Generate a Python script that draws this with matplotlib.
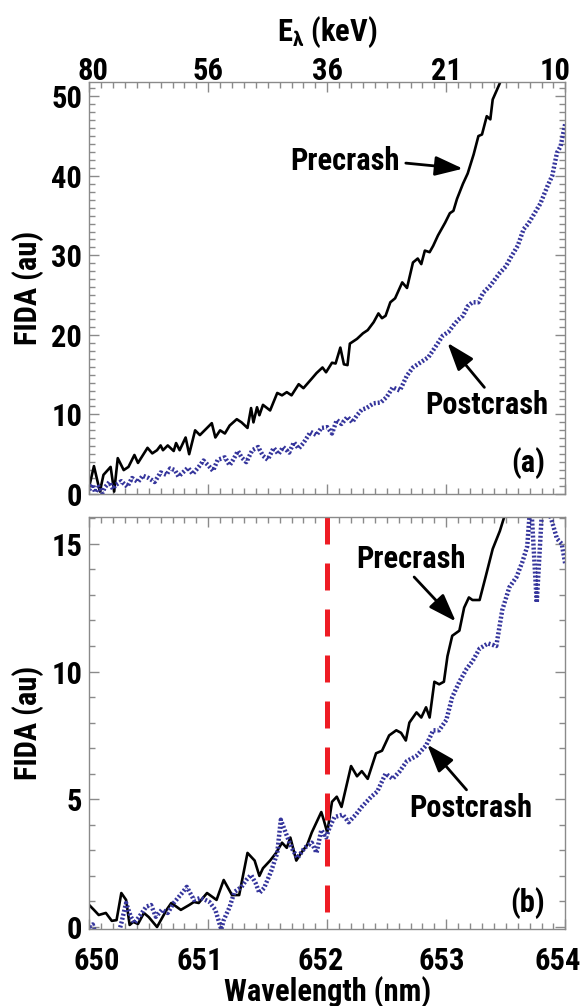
import matplotlib
matplotlib.use("Agg")
import matplotlib.pyplot as plt
import matplotlib.font_manager as fm
import matplotlib.transforms as mtransforms
from matplotlib.ticker import MultipleLocator

# pick a narrow bold face if one is around
names = {f.name for f in fm.fontManager.ttflist}
narrow = None
for cand in ['Liberation Sans Narrow', 'Arial Narrow', 'Roboto Condensed', 'Open Sans Condensed',
             'DejaVu Sans Condensed']:
    if cand in names:
        narrow = cand
        break
if narrow is None:
    narrow = 'DejaVu Sans'
    plt.rcParams['font.stretch'] = 'condensed'
plt.rcParams['font.family'] = [narrow, 'DejaVu Sans']
plt.rcParams['font.weight'] = 'bold'
plt.rcParams['axes.labelweight'] = 'bold'
plt.rcParams['mathtext.fontset'] = 'custom'
plt.rcParams['mathtext.rm'] = narrow + ':bold'
plt.rcParams['mathtext.it'] = narrow + ':bold'
plt.rcParams['mathtext.bf'] = narrow + ':bold'

# ---- data ----
wl_ticks = [650, 651, 652, 653, 654]
energy_labels = ['80', '56', '36', '21', '10']
crash_wl = 652.0

# (a) precrash
wl_pre_a = [650.00, 650.04, 650.09, 650.12, 650.18, 650.21, 650.24, 650.29, 650.33, 650.38,
            650.41, 650.49, 650.53, 650.57, 650.60, 650.62, 650.66, 650.71, 650.73, 650.76,
            650.81, 650.84, 650.89, 650.93, 650.97, 651.03, 651.06, 651.10, 651.14, 651.18,
            651.24, 651.28, 651.33, 651.36, 651.38, 651.41, 651.43, 651.46, 651.52, 651.58,
            651.62, 651.66, 651.70, 651.76, 651.80, 651.87, 651.91, 651.96, 651.99, 652.04,
            652.07, 652.11, 652.14, 652.17, 652.19, 652.25, 652.30, 652.34, 652.39, 652.43,
            652.46, 652.49, 652.53, 652.57, 652.63, 652.67, 652.72, 652.76, 652.79, 652.82,
            652.86, 652.89, 652.93, 652.99, 653.03, 653.06, 653.09, 653.14, 653.18, 653.23,
            653.27, 653.30, 653.34, 653.37, 653.39, 653.44, 653.50]
fida_pre_a = [0.9, 3.5, 0.3, 2.4, 3.4, 0.3, 4.5, 3.0, 3.4, 4.9,
              3.9, 5.8, 5.1, 5.5, 6.1, 5.5, 6.1, 5.4, 6.4, 5.5,
              7.1, 5.0, 8.0, 7.4, 8.0, 8.9, 7.1, 8.0, 7.6, 8.6,
              9.4, 9.0, 8.3, 10.8, 9.0, 10.9, 9.9, 11.2, 10.5, 12.7,
              12.4, 12.8, 12.4, 13.8, 13.3, 14.5, 15.2, 15.9, 15.3, 16.5,
              16.4, 18.4, 16.3, 16.2, 18.9, 19.5, 20.2, 20.6, 21.6, 22.7,
              22.1, 22.4, 24.1, 24.6, 26.6, 25.9, 29.1, 29.6, 28.9, 30.6,
              30.4, 31.2, 32.5, 34.1, 35.3, 35.6, 37.1, 39.0, 40.3, 42.7,
              45.0, 45.2, 47.5, 47.1, 49.6, 51.3, 53.5]

# (a) postcrash
wl_post_a = [650.00, 650.03, 650.05, 650.08, 650.11, 650.13, 650.17, 650.20, 650.22, 650.27,
             650.32, 650.36, 650.41, 650.45, 650.50, 650.55, 650.60, 650.65, 650.68, 650.72,
             650.75, 650.78, 650.83, 650.87, 650.92, 650.96, 651.00, 651.04, 651.08, 651.14,
             651.18, 651.21, 651.25, 651.28, 651.32, 651.37, 651.42, 651.46, 651.50, 651.55,
             651.59, 651.63, 651.68, 651.72, 651.76, 651.80, 651.86, 651.91, 651.95, 652.00,
             652.04, 652.08, 652.12, 652.17, 652.21, 652.25, 652.29, 652.33, 652.39, 652.45,
             652.50, 652.55, 652.61, 652.67, 652.72, 652.78, 652.85, 652.90, 652.97, 653.02,
             653.06, 653.10, 653.14, 653.18, 653.22, 653.27, 653.31, 653.37, 653.41, 653.45,
             653.50, 653.54, 653.60, 653.65, 653.69, 653.73, 653.79, 653.85, 653.89, 653.93,
             653.96, 654.00]
fida_post_a = [0.5, 1.2, 0.2, 0.9, 0.1, 0.8, 1.5, 0.6, 1.1, 1.6,
               0.9, 2.0, 1.5, 2.3, 2.0, 1.5, 2.7, 2.4, 3.2, 3.0,
               2.2, 2.6, 3.3, 2.5, 3.4, 4.2, 3.6, 2.9, 4.3, 4.6,
               3.6, 4.3, 5.4, 4.6, 4.0, 5.5, 5.9, 4.8, 4.3, 5.8,
               5.0, 5.9, 5.2, 6.5, 5.7, 6.4, 7.8, 7.4, 8.3, 8.4,
               7.6, 9.3, 8.8, 9.7, 9.0, 9.9, 10.6, 10.8, 11.4, 11.5,
               12.2, 13.4, 13.0, 14.9, 15.9, 16.5, 17.2, 18.3, 19.9, 20.4,
               21.2, 21.9, 22.4, 23.6, 24.1, 24.1, 25.3, 26.2, 27.0, 27.8,
               28.6, 29.7, 31.2, 33.3, 34.0, 35.0, 36.5, 38.7, 40.0, 42.9,
               43.7, 46.6]

# (b) precrash
wl_pre_b = [650.00, 650.04, 650.08, 650.14, 650.19, 650.23, 650.27, 650.31, 650.34, 650.37,
            650.41, 650.46, 650.50, 650.57, 650.65, 650.69, 650.77, 650.84, 650.88, 650.92,
            650.99, 651.07, 651.13, 651.20, 651.26, 651.33, 651.39, 651.43, 651.46, 651.52,
            651.57, 651.62, 651.66, 651.69, 651.74, 651.78, 651.83, 651.87, 651.95, 651.97,
            652.00, 652.04, 652.08, 652.12, 652.16, 652.20, 652.25, 652.29, 652.34, 652.41,
            652.46, 652.52, 652.58, 652.62, 652.66, 652.69, 652.75, 652.79, 652.83, 652.86,
            652.90, 652.94, 652.98, 653.01, 653.05, 653.11, 653.15, 653.19, 653.22, 653.28,
            653.33, 653.39, 653.45, 653.49, 653.52]
fida_pre_b = [0.86, 0.67, 0.47, 0.55, 0.24, 0.27, 1.33, 1.06, 0.08, 0.2,
              0.12, 0.55, 0.39, 0.0, 0.67, 0.94, 0.67, 0.86, 0.98, 0.94,
              1.33, 1.06, 1.84, 1.25, 1.25, 2.9, 2.6, 2.0, 2.3, 2.6,
              2.9, 3.3, 3.1, 3.5, 2.6, 2.9, 3.2, 3.7, 4.5, 4.2,
              3.7, 4.9, 5.1, 4.7, 5.5, 6.3, 5.9, 6.1, 5.8, 6.8,
              6.9, 7.5, 7.7, 7.6, 7.3, 8.0, 8.4, 8.2, 8.6, 8.2,
              9.6, 9.5, 9.6, 10.6, 11.4, 11.6, 12.5, 12.9, 12.8, 12.8,
              13.7, 14.8, 15.5, 16.1, 17.0]

# (b) postcrash
wl_post_b = [650.00, 650.03, 650.10, 650.20, 650.25, 650.27, 650.31, 650.35, 650.38, 650.42,
             650.48, 650.52, 650.56, 650.61, 650.66, 650.71, 650.78, 650.82, 650.88, 650.94,
             651.01, 651.06, 651.11, 651.13, 651.18, 651.22, 651.28, 651.32, 651.36, 651.40,
             651.43, 651.47, 651.53, 651.58, 651.61, 651.65, 651.70, 651.75, 651.81, 651.87,
             651.91, 651.95, 651.99, 652.02, 652.06, 652.13, 652.18, 652.24, 652.29, 652.37,
             652.42, 652.49, 652.55, 652.61, 652.67, 652.75, 652.83, 652.89, 652.94, 653.00,
             653.05, 653.11, 653.17, 653.22, 653.28, 653.35, 653.42, 653.47, 653.53, 653.59,
             653.64, 653.68, 653.71, 653.76, 653.81, 653.88, 653.93, 653.97, 654.00]
fida_post_b = [0.0, 0.1, -1.0, -0.8, -0.2, 0.15, 0.94, 0.4, 0.15, 0.4,
               0.8, 0.86, 0.4, 0.67, 0.55, 0.94, 1.33, 1.57, 1.06, 1.14,
               0.98, 0.67, -0.1, 0.27, 0.78, 1.37, 1.57, 1.84, 2.04, 1.7,
               1.33, 1.53, 2.2, 2.9, 4.2, 3.7, 3.1, 2.7, 3.1, 3.3,
               2.9, 3.8, 3.5, 3.9, 4.3, 4.4, 4.1, 4.4, 4.7, 5.1,
               5.3, 6.0, 5.8, 6.1, 6.5, 6.7, 7.1, 7.7, 7.7, 8.1,
               9.0, 9.6, 10.1, 10.4, 10.9, 11.1, 11.0, 12.4, 13.3, 13.7,
               14.3, 14.9, 16.8, 12.7, 16.8, 16.0, 15.2, 15.0, 14.2]

blue = '#35359c'
frame = '#8a8a8a'
tick_fs = 22
lab_fs = 22
txt_fs = 22

fig = plt.figure(figsize=(5.81, 10.06), dpi=100)
ax1 = fig.add_axes([0.1535, 0.509, 0.8195, 0.4095])
ax2 = fig.add_axes([0.1535, 0.0765, 0.8195, 0.4096])
arrow_kw = dict(arrowstyle='-|>,head_length=1.7,head_width=0.6', lw=2,
                color='k', mutation_scale=10, shrinkA=0, shrinkB=0)


def style(ax):
    for s in ax.spines.values():
        s.set_color(frame)
        s.set_linewidth(1.0)
    ax.xaxis.set_minor_locator(MultipleLocator(0.1))
    ax.yaxis.set_minor_locator(MultipleLocator(1))
    ax.tick_params(which='both', direction='in', top=True, right=True, color=frame, width=1.0)
    ax.tick_params(which='major', length=7, labelsize=tick_fs)
    ax.tick_params(which='minor', length=4)
    ax.set_xlim(650, 654)


def nudge(labels, shifts):
    # shift tick labels sideways by a few pixels, like the original
    for lab, dx in zip(labels, shifts):
        lab.set_transform(lab.get_transform() +
                          mtransforms.ScaledTranslation(dx / 100, 0, fig.dpi_scale_trans))


# ---- (a) ----
ax1.plot(wl_pre_a, fida_pre_a, color='k', lw=1.9)
ax1.plot(wl_post_a, fida_post_a, color=blue, lw=3.2, linestyle=(0, (0.45, 0.45)))
style(ax1)
ax1.set_ylim(0, 51.8)
ax1.set_yticks([0, 10, 20, 30, 40, 50])
ax1.set_xticks(wl_ticks, energy_labels)
ax1.tick_params(axis='x', which='major', labeltop=True, labelbottom=False, pad=-3)
ax1.tick_params(axis='y', which='major', pad=5)
ax1.xaxis.set_label_position('top')
ax1.set_xlabel(r'E$_{\lambda}$ (keV)', fontsize=lab_fs, labelpad=11)
ax1.set_ylabel('FIDA (au)', fontsize=lab_fs, labelpad=5)
nudge(ax1.get_xticklabels(which='major'), [4, 0, 0, 0, -10])

ax1.text(651.69, 41.9, 'Precrash', fontsize=txt_fs, ha='left', va='center')
ax1.annotate('', xy=(653.14, 40.9), xytext=(652.66, 41.6), arrowprops=arrow_kw)
ax1.text(652.82, 11.2, 'Postcrash', fontsize=txt_fs, ha='left', va='center')
ax1.annotate('', xy=(653.01, 19.0), xytext=(653.32, 13.4), arrowprops=arrow_kw)
ax1.text(0.958, 0.075, '(a)', transform=ax1.transAxes, fontsize=txt_fs, ha='right', va='center')

# ---- (b) ----
ax2.plot(wl_pre_b, fida_pre_b, color='k', lw=1.9)
ax2.plot(wl_post_b, fida_post_b, color=blue, lw=3.2, linestyle=(0, (0.45, 0.45)))
ax2.plot([crash_wl, crash_wl], [16.05, -0.1], color='#ee1c24', lw=3.6,
         linestyle=(0, (5.4, 3.8)))
style(ax2)
ax2.set_ylim(-0.08, 16.05)
ax2.set_yticks([0, 5, 10, 15])
ax2.set_xticks(wl_ticks, [str(w) for w in wl_ticks])
ax2.tick_params(axis='x', which='major', pad=12)
ax2.tick_params(axis='y', which='major', pad=5)
ax2.set_xlabel('Wavelength (nm)', fontsize=lab_fs, labelpad=0)
ax2.set_ylabel('FIDA (au)', fontsize=lab_fs, labelpad=5)
nudge(ax2.get_xticklabels(which='major'), [8, -8, -7, -5, -8])

ax2.text(652.24, 14.4, 'Precrash', fontsize=txt_fs, ha='left', va='center')
ax2.annotate('', xy=(653.08, 11.96), xytext=(652.73, 13.7), arrowprops=arrow_kw)
ax2.text(652.69, 4.67, 'Postcrash', fontsize=txt_fs, ha='left', va='center')
ax2.annotate('', xy=(652.84, 7.14), xytext=(653.17, 5.37), arrowprops=arrow_kw)
ax2.text(0.958, 0.063, '(b)', transform=ax2.transAxes, fontsize=txt_fs, ha='right', va='center')

fig.savefig('out.png', dpi=100)
